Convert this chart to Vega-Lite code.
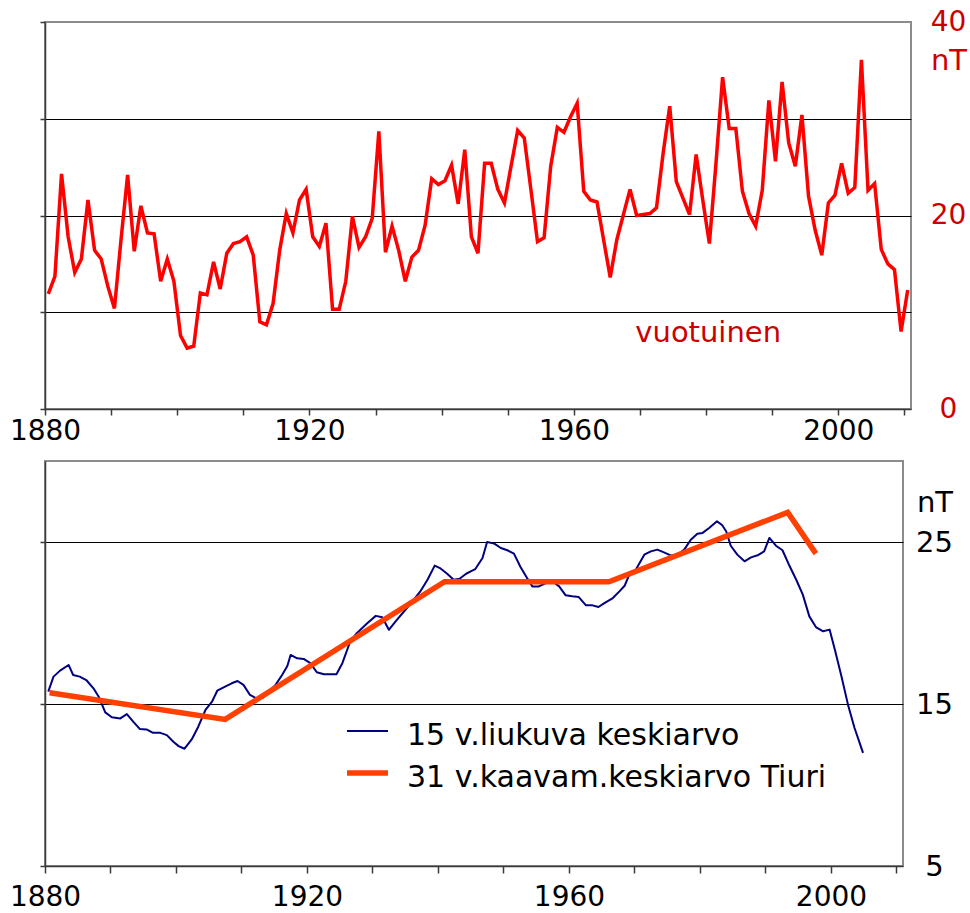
{
  "$schema": "https://vega.github.io/schema/vega-lite/v6.json",
  "padding": {"left": 8, "top": 7, "right": 0, "bottom": 0},
  "spacing": 14,
  "config": {
    "font": "DejaVu Sans",
    "view": {"stroke": "#8c8c8c", "strokeWidth": 2},
    "axis": {
      "domainColor": "#3a3a3a", "domainWidth": 1.5,
      "tickColor": "#3a3a3a", "tickWidth": 1.5,
      "labelColor": "#000000", "labelFlush": false, "labelOverlap": false,
      "gridColor": "#000000", "gridWidth": 1.2, "gridOpacity": 1,
      "titleFontWeight": "normal"
    }
  },
  "vconcat": [
    {
      "width": 866,
      "height": 387,
      "layer": [
        {
          "data": {"values": [
            {"t":1880.5,"v":11.9},{"t":1881.5,"v":13.7},{"t":1882.5,"v":24.3},{"t":1883.5,"v":17.8},{"t":1884.5,"v":14.1},
            {"t":1885.5,"v":15.5},{"t":1886.5,"v":21.6},{"t":1887.5,"v":16.4},{"t":1888.5,"v":15.5},{"t":1889.5,"v":12.7},
            {"t":1890.5,"v":10.4},{"t":1891.5,"v":17.5},{"t":1892.5,"v":24.2},{"t":1893.5,"v":16.3},{"t":1894.5,"v":21.0},
            {"t":1895.5,"v":18.2},{"t":1896.5,"v":18.1},{"t":1897.5,"v":13.2},{"t":1898.5,"v":15.5},{"t":1899.5,"v":13.2},
            {"t":1900.5,"v":7.6},{"t":1901.5,"v":6.3},{"t":1902.5,"v":6.5},{"t":1903.5,"v":12.0},{"t":1904.5,"v":11.8},
            {"t":1905.5,"v":15.2},{"t":1906.5,"v":12.4},{"t":1907.5,"v":16.1},{"t":1908.5,"v":17.1},{"t":1909.5,"v":17.3},
            {"t":1910.5,"v":17.8},{"t":1911.5,"v":15.9},{"t":1912.5,"v":9.0},{"t":1913.5,"v":8.7},{"t":1914.5,"v":10.9},
            {"t":1915.5,"v":16.4},{"t":1916.5,"v":20.2},{"t":1917.5,"v":18.2},{"t":1918.5,"v":21.6},{"t":1919.5,"v":22.7},
            {"t":1920.5,"v":17.8},{"t":1921.5,"v":16.8},{"t":1922.5,"v":19.2},{"t":1923.5,"v":10.3},{"t":1924.5,"v":10.3},
            {"t":1925.5,"v":13.2},{"t":1926.5,"v":19.9},{"t":1927.5,"v":16.7},{"t":1928.5,"v":17.8},{"t":1929.5,"v":19.7},
            {"t":1930.5,"v":28.7},{"t":1931.5,"v":16.2},{"t":1932.5,"v":18.9},{"t":1933.5,"v":16.4},{"t":1934.5,"v":13.2},
            {"t":1935.5,"v":15.7},{"t":1936.5,"v":16.4},{"t":1937.5,"v":19.0},{"t":1938.5,"v":23.8},{"t":1939.5,"v":23.2},
            {"t":1940.5,"v":23.6},{"t":1941.5,"v":25.2},{"t":1942.5,"v":21.2},{"t":1943.5,"v":26.8},{"t":1944.5,"v":17.8},
            {"t":1945.5,"v":16.1},{"t":1946.5,"v":25.4},{"t":1947.5,"v":25.4},{"t":1948.5,"v":22.7},{"t":1949.5,"v":21.3},
            {"t":1950.5,"v":25.1},{"t":1951.5,"v":28.8},{"t":1952.5,"v":28.0},{"t":1953.5,"v":22.7},{"t":1954.5,"v":17.3},
            {"t":1955.5,"v":17.7},{"t":1956.5,"v":25.1},{"t":1957.5,"v":29.1},{"t":1958.5,"v":28.6},{"t":1959.5,"v":30.2},
            {"t":1960.5,"v":31.6},{"t":1961.5,"v":22.5},{"t":1962.5,"v":21.6},{"t":1963.5,"v":21.4},{"t":1964.5,"v":17.5},
            {"t":1965.5,"v":13.6},{"t":1966.5,"v":17.5},{"t":1967.5,"v":20.1},{"t":1968.5,"v":22.7},{"t":1969.5,"v":20.0},
            {"t":1970.5,"v":20.1},{"t":1971.5,"v":20.2},{"t":1972.5,"v":20.8},{"t":1973.5,"v":26.4},{"t":1974.5,"v":31.3},
            {"t":1975.5,"v":23.5},{"t":1976.5,"v":21.8},{"t":1977.5,"v":20.1},{"t":1978.5,"v":26.3},{"t":1979.5,"v":21.6},
            {"t":1980.5,"v":17.1},{"t":1981.5,"v":25.4},{"t":1982.5,"v":34.3},{"t":1983.5,"v":29.0},{"t":1984.5,"v":29.0},
            {"t":1985.5,"v":22.5},{"t":1986.5,"v":20.2},{"t":1987.5,"v":18.9},{"t":1988.5,"v":22.6},{"t":1989.5,"v":31.9},
            {"t":1990.5,"v":25.6},{"t":1991.5,"v":33.8},{"t":1992.5,"v":27.5},{"t":1993.5,"v":25.1},{"t":1994.5,"v":30.4},
            {"t":1995.5,"v":22.0},{"t":1996.5,"v":18.5},{"t":1997.5,"v":15.9},{"t":1998.5,"v":21.3},{"t":1999.5,"v":22.1},
            {"t":2000.5,"v":25.4},{"t":2001.5,"v":22.3},{"t":2002.5,"v":22.9},{"t":2003.5,"v":36.1},{"t":2004.5,"v":22.6},
            {"t":2005.5,"v":23.3},{"t":2006.5,"v":16.5},{"t":2007.5,"v":15.0},{"t":2008.5,"v":14.4},{"t":2009.5,"v":8.0},
            {"t":2010.5,"v":12.3}
          ]},
          "mark": {"type": "line", "color": "#ff0000", "strokeWidth": 3.5, "strokeJoin": "miter"},
          "encoding": {
            "x": {
              "field": "t", "type": "quantitative",
              "scale": {"domain": [1880, 2011], "nice": false, "zero": false},
              "axis": {
                "title": null, "grid": false,
                "values": [1880, 1890, 1900, 1910, 1920, 1930, 1940, 1950, 1960, 1970, 1980, 1990, 2000, 2010],
                "format": "d",
                "labelExpr": "datum.value % 40 == 0 ? datum.label : ''",
                "labelFontSize": 28, "tickSize": 6, "labelPadding": 2
              }
            },
            "y": {
              "field": "v", "type": "quantitative",
              "scale": {"domain": [0, 40], "nice": false},
              "axis": {
                "orient": "right",
                "values": [0, 10, 20, 30, 40],
                "labelExpr": "datum.value % 20 == 0 ? datum.label : ''",
                "labelColor": "#cc0000", "labelFontSize": 28,
                "labelAlign": "center", "labelBaseline": "middle", "labelPadding": 37,
                "ticks": false, "domain": false,
                "grid": true,
                "gridOpacity": {"condition": {"test": "datum.value == 0 || datum.value == 40", "value": 0}, "value": 1},
                "title": "nT", "titleColor": "#cc0000", "titleFontSize": 29,
                "titleAngle": 0, "titleX": 37.5, "titleY": 47,
                "titleAlign": "center", "titleBaseline": "alphabetic"
              }
            }
          }
        },
        {
          "data": {"values": [{"t": 1969.3, "v": 6.95, "label": "vuotuinen"}]},
          "mark": {"type": "text", "color": "#cc0000", "fontSize": 29, "align": "left", "baseline": "alphabetic"},
          "encoding": {
            "x": {"field": "t", "type": "quantitative"},
            "y": {
              "field": "v", "type": "quantitative",
              "axis": {
                "orient": "left", "values": [0, 10, 20, 30, 40],
                "labels": false, "ticks": true, "tickSize": 5,
                "domain": true, "grid": false, "title": null
              }
            },
            "text": {"field": "label"}
          }
        }
      ],
      "resolve": {"axis": {"y": "independent"}}
    },
    {
      "width": 858,
      "height": 405,
      "layer": [
        {
          "data": {"values": [
            {"t":1880.5,"v":15.76},{"t":1881.3,"v":16.69},{"t":1882.3,"v":17.06},{"t":1883.6,"v":17.41},{"t":1884.3,"v":16.79},
            {"t":1885.3,"v":16.69},{"t":1886.3,"v":16.48},{"t":1887.4,"v":15.97},{"t":1888.2,"v":15.45},{"t":1889.2,"v":14.48},
            {"t":1890.2,"v":14.18},{"t":1891.5,"v":14.11},{"t":1892.5,"v":14.38},{"t":1893.5,"v":13.9},{"t":1894.5,"v":13.45},
            {"t":1895.5,"v":13.43},{"t":1896.5,"v":13.22},{"t":1897.6,"v":13.22},{"t":1898.6,"v":13.08},{"t":1899.6,"v":12.67},
            {"t":1900.4,"v":12.4},{"t":1901.3,"v":12.24},{"t":1902.4,"v":12.81},{"t":1903.4,"v":13.6},{"t":1904.5,"v":14.63},
            {"t":1905.5,"v":15.14},{"t":1906.3,"v":15.82},{"t":1907.5,"v":16.07},{"t":1908.5,"v":16.28},{"t":1909.4,"v":16.42},
            {"t":1910.3,"v":16.18},{"t":1911.3,"v":15.56},{"t":1912.3,"v":15.35},{"t":1913.3,"v":15.39},{"t":1914.4,"v":15.87},
            {"t":1915.2,"v":16.18},{"t":1916.2,"v":16.79},{"t":1917.0,"v":17.35},{"t":1917.5,"v":18.03},{"t":1918.5,"v":17.82},
            {"t":1919.5,"v":17.78},{"t":1920.5,"v":17.52},{"t":1921.5,"v":16.96},{"t":1922.6,"v":16.84},{"t":1923.6,"v":16.84},
            {"t":1924.5,"v":16.84},{"t":1925.4,"v":17.52},{"t":1926.6,"v":18.86},{"t":1927.6,"v":19.37},{"t":1929.2,"v":19.99},
            {"t":1930.5,"v":20.44},{"t":1931.5,"v":20.36},{"t":1932.5,"v":19.58},{"t":1933.5,"v":20.09},{"t":1934.8,"v":20.71},
            {"t":1936.1,"v":21.33},{"t":1937.3,"v":21.95},{"t":1938.4,"v":22.67},{"t":1939.5,"v":23.54},{"t":1940.3,"v":23.39},
            {"t":1941.4,"v":23.04},{"t":1942.4,"v":22.67},{"t":1943.3,"v":22.73},{"t":1944.3,"v":23.04},{"t":1945.0,"v":23.19},
            {"t":1945.7,"v":23.33},{"t":1946.8,"v":24.01},{"t":1947.5,"v":25.0},{"t":1948.6,"v":24.9},{"t":1949.6,"v":24.63},
            {"t":1950.6,"v":24.49},{"t":1951.6,"v":24.28},{"t":1952.6,"v":23.46},{"t":1953.6,"v":22.78},{"t":1954.4,"v":22.26},
            {"t":1955.4,"v":22.26},{"t":1956.5,"v":22.47},{"t":1957.5,"v":22.57},{"t":1958.5,"v":22.26},{"t":1959.5,"v":21.71},
            {"t":1960.5,"v":21.65},{"t":1961.5,"v":21.6},{"t":1962.6,"v":21.09},{"t":1963.6,"v":21.09},{"t":1964.5,"v":20.99},
            {"t":1965.4,"v":21.23},{"t":1966.7,"v":21.54},{"t":1967.7,"v":21.95},{"t":1968.5,"v":22.3},{"t":1969.1,"v":22.88},
            {"t":1970.2,"v":23.29},{"t":1971.5,"v":24.22},{"t":1972.5,"v":24.42},{"t":1973.5,"v":24.53},{"t":1974.5,"v":24.36},
            {"t":1975.6,"v":24.16},{"t":1976.6,"v":24.22},{"t":1977.6,"v":24.53},{"t":1978.6,"v":25.14},{"t":1979.6,"v":25.51},
            {"t":1980.4,"v":25.56},{"t":1981.4,"v":25.86},{"t":1982.6,"v":26.28},{"t":1983.4,"v":26.03},{"t":1984.0,"v":25.66},
            {"t":1984.7,"v":24.77},{"t":1985.7,"v":24.22},{"t":1986.8,"v":23.81},{"t":1987.8,"v":24.05},{"t":1988.8,"v":24.18},
            {"t":1989.8,"v":24.42},{"t":1990.6,"v":25.25},{"t":1991.6,"v":24.77},{"t":1992.6,"v":24.49},{"t":1993.7,"v":23.5},
            {"t":1994.7,"v":22.67},{"t":1995.7,"v":21.75},{"t":1996.7,"v":20.41},{"t":1997.7,"v":19.75},{"t":1998.8,"v":19.49},
            {"t":1999.8,"v":19.59},{"t":2000.6,"v":18.35},{"t":2001.6,"v":16.71},{"t":2002.6,"v":14.96},{"t":2003.6,"v":13.52},
            {"t":2004.9,"v":11.98}
          ]},
          "transform": [{"calculate": "'15 v.liukuva keskiarvo'", "as": "series"}],
          "mark": {"type": "line", "strokeJoin": "round"},
          "encoding": {
            "x": {
              "field": "t", "type": "quantitative",
              "scale": {"domain": [1880, 2011], "nice": false, "zero": false},
              "axis": {
                "title": null, "grid": false,
                "values": [1880, 1890, 1900, 1910, 1920, 1930, 1940, 1950, 1960, 1970, 1980, 1990, 2000, 2010],
                "format": "d",
                "labelExpr": "datum.value % 40 == 0 ? datum.label : ''",
                "labelFontSize": 28, "tickSize": 7, "labelPadding": 10
              }
            },
            "y": {
              "field": "v", "type": "quantitative",
              "scale": {"domain": [5, 30], "nice": false, "zero": false},
              "axis": {
                "orient": "right",
                "values": [5, 15, 25],
                "labelFontSize": 29,
                "labelAlign": "center", "labelBaseline": "middle", "labelPadding": 31,
                "ticks": false, "domain": false,
                "grid": true,
                "gridOpacity": {"condition": {"test": "datum.value == 5", "value": 0}, "value": 1},
                "title": "nT", "titleColor": "#000000", "titleFontSize": 29,
                "titleAngle": 0, "titleX": 31.5, "titleY": 50,
                "titleAlign": "center", "titleBaseline": "alphabetic"
              }
            },
            "color": {
              "field": "series", "type": "nominal",
              "scale": {"domain": ["15 v.liukuva keskiarvo", "31 v.kaavam.keskiarvo Tiuri"], "range": ["#000080", "#ff4000"]},
              "legend": {
                "orient": "none", "legendX": 299, "legendY": 688,
                "title": null, "padding": 0,
                "labelFontSize": 30, "labelColor": "#000000", "labelBaseline": "middle", "labelLimit": 600,
                "symbolType": "stroke", "symbolSize": 1681, "symbolOffset": 0,
                "labelOffset": 16, "clipHeight": 42, "rowPadding": 0,
                "encode": {
                  "symbols": {"update": {"stroke": {"signal": "datum.value == '15 v.liukuva keskiarvo' ? '#000000' : '#ff4000'"}}},
                  "labels": {"update": {"dy": {"value": 5}}}
                }
              }
            },
            "strokeWidth": {
              "field": "series", "type": "nominal",
              "scale": {"domain": ["15 v.liukuva keskiarvo", "31 v.kaavam.keskiarvo Tiuri"], "range": [2, 5.5]}
            }
          }
        },
        {
          "data": {"values": [
            {"t":1880.7,"v":15.7},{"t":1907.5,"v":14.05},{"t":1941.0,"v":22.55},
            {"t":1966.1,"v":22.55},{"t":1993.4,"v":26.83},{"t":1997.7,"v":24.28}
          ]},
          "transform": [{"calculate": "'31 v.kaavam.keskiarvo Tiuri'", "as": "series"}],
          "mark": {"type": "line", "strokeJoin": "miter"},
          "encoding": {
            "x": {"field": "t", "type": "quantitative"},
            "y": {
              "field": "v", "type": "quantitative",
              "axis": {
                "orient": "left", "values": [5, 15, 25],
                "labels": false, "ticks": true, "tickSize": 5,
                "domain": true, "grid": false, "title": null
              }
            },
            "color": {"field": "series", "type": "nominal"},
            "strokeWidth": {"field": "series", "type": "nominal"}
          }
        }
      ],
      "resolve": {"axis": {"y": "independent"}}
    }
  ]
}
